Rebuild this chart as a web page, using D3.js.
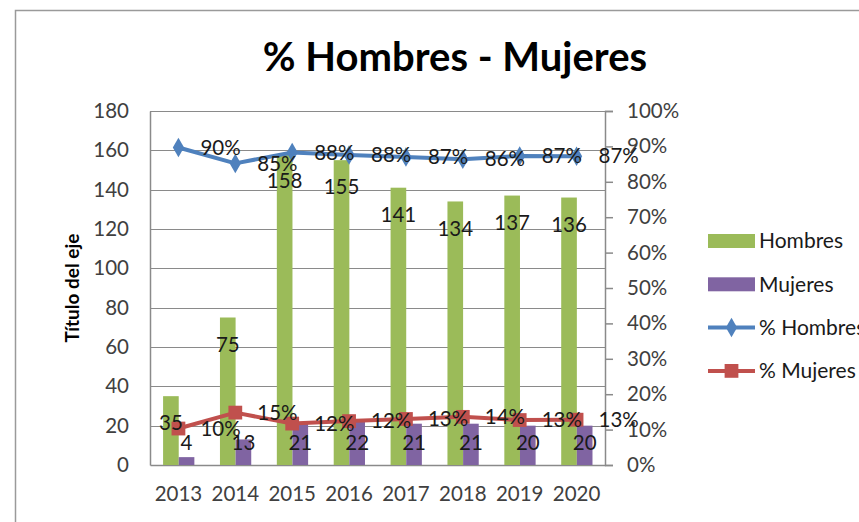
<!DOCTYPE html>
<html>
<head>
<meta charset="utf-8">
<script src="https://cdn.jsdelivr.net/npm/d3@7"></script>
<style>
  body { margin: 0; background: #fff; }
  svg { display: block; font-family: Lato, "Noto Sans", sans-serif; }
</style>
</head>
<body>
<div id="chart"></div>
<script>
width = 859
height = 522

margin = ({ top: 111, right: 254, bottom: 57, left: 150 })

// datos
years = ["2013", "2014", "2015", "2016", "2017", "2018", "2019", "2020"]
hombres = [35, 75, 158, 155, 141, 134, 137, 136]
mujeres = [4, 13, 21, 22, 21, 21, 20, 20]
pctHombres = [0.897, 0.852, 0.883, 0.876, 0.870, 0.864, 0.873, 0.872]
pctMujeres = [0.103, 0.148, 0.117, 0.124, 0.130, 0.136, 0.127, 0.128]
leftTicks = [0, 20, 40, 60, 80, 100, 120, 140, 160, 180]
rightTicks = [0, 0.1, 0.2, 0.3, 0.4, 0.5, 0.6, 0.7, 0.8, 0.9, 1]
seriesNames = ["Hombres", "Mujeres", "% Hombres", "% Mujeres"]
colors = ["#9bbb59", "#8064a2", "#4f81bd", "#c0504d"]

const svg = d3.select("#chart").append("svg")
    .attr("width", width)
    .attr("height", height)

// marco del grafico
svg.append("rect")
    .attr("x", 15.5).attr("y", 10.5)
    .attr("width", width).attr("height", height)
    .attr("fill", "none")
    .attr("stroke", "#9a9a9a")
    .attr("stroke-width", 1.5)

x = d3.scaleBand(years, [margin.left, width - margin.right])
xs = d3.scaleBand(["Hombres", "Mujeres"], [x.bandwidth() * 0.23, x.bandwidth() * 0.78])
y = d3.scaleLinear([0, 180], [height - margin.bottom, margin.top])
y2 = d3.scaleLinear([0, 1], [height - margin.bottom, margin.top])

// rejilla
svg.append("g")
    .attr("stroke", "#8a8a8a")
    .attr("stroke-width", 1.2)
    .selectAll("line")
    .data(leftTicks.slice(1))
    .join("line")
    .attr("x1", margin.left)
    .attr("x2", width - margin.right)
    .attr("y1", d => Math.round(y(d)) + 0.5)
    .attr("y2", d => Math.round(y(d)) + 0.5)

// eje izquierdo
svg.append("g")
    .attr("transform", `translate(${margin.left},0)`)
    .call(d3.axisLeft(y).tickValues(leftTicks).tickSize(0).tickPadding(21))
    .call(g => g.select(".domain").attr("stroke", "#8a8a8a").attr("stroke-width", 1.5))
    .call(g => g.selectAll("text").attr("font-size", 20.5).attr("fill", "#404040").attr("font-family", "Lato"))

// eje derecho
svg.append("g")
    .attr("transform", `translate(${width - margin.right},0)`)
    .call(d3.axisRight(y2).tickValues(rightTicks).tickSize(8).tickPadding(14).tickFormat(d3.format(".0%")))
    .call(g => g.select(".domain").attr("stroke", "#8a8a8a").attr("stroke-width", 1.5))
    .call(g => g.selectAll("line").attr("stroke", "#8a8a8a").attr("stroke-width", 1.5))
    .call(g => g.selectAll("text").attr("font-size", 20.5).attr("fill", "#404040").attr("font-family", "Lato"))

// eje x
svg.append("g")
    .attr("transform", `translate(0,${height - margin.bottom})`)
    .call(d3.axisBottom(x).tickSize(0).tickPadding(21))
    .call(g => g.select(".domain").attr("stroke", "#8a8a8a").attr("stroke-width", 1.5))
    .call(g => g.selectAll("text").attr("font-size", 20.5).attr("fill", "#404040").attr("font-family", "Lato"))

// barras
const barData = years.map((yr, i) => [
    { year: yr, key: "Hombres", value: hombres[i], color: colors[0] },
    { year: yr, key: "Mujeres", value: mujeres[i], color: colors[1] }
]).flat()

svg.append("g")
    .selectAll("rect")
    .data(barData)
    .join("rect")
    .attr("x", d => x(d.year) + xs(d.key))
    .attr("width", xs.bandwidth())
    .attr("y", d => y(d.value))
    .attr("height", d => y(0) - y(d.value))
    .attr("fill", d => d.color)

// lineas
const line = d3.line()
    .x(d => x(d[0]) + x.bandwidth() / 2)
    .y(d => y2(d[1]))

const lineSeries = [
    { values: years.map((yr, i) => [yr, pctHombres[i]]), color: colors[2], symbol: d3.symbolDiamond, size: 110 },
    { values: years.map((yr, i) => [yr, pctMujeres[i]]), color: colors[3], symbol: d3.symbolSquare, size: 190 }
]

lineSeries.forEach(s => {
    svg.append("path")
        .datum(s.values)
        .attr("fill", "none")
        .attr("stroke", s.color)
        .attr("stroke-width", 4)
        .attr("stroke-linejoin", "round")
        .attr("d", line)
    svg.append("g")
        .selectAll("path")
        .data(s.values)
        .join("path")
        .attr("transform", d => `translate(${x(d[0]) + x.bandwidth() / 2},${y2(d[1])})`)
        .attr("d", d3.symbol(s.symbol, s.size))
        .attr("fill", s.color)
})

// etiquetas de datos
const labels = svg.append("g")
    .attr("font-size", 20.5)
    .attr("fill", "#1a1a1a")
    .attr("font-family", "Lato")

labels.selectAll(".lh")
    .data(years.map((yr, i) => [yr, hombres[i]]))
    .join("text")
    .attr("x", d => x(d[0]) + xs("Hombres") + xs.bandwidth() / 2)
    .attr("y", d => y(d[1]) + 27)
    .attr("dy", "0.35em")
    .attr("text-anchor", "middle")
    .text(d => d[1])

labels.selectAll(".lm")
    .data(years.map((yr, i) => [yr, mujeres[i]]))
    .join("text")
    .attr("x", d => x(d[0]) + xs("Mujeres") + xs.bandwidth() / 2)
    .attr("y", y(0) - 22)
    .attr("dy", "0.35em")
    .attr("text-anchor", "middle")
    .text(d => d[1])

lineSeries.forEach(s => {
    labels.append("g")
        .selectAll("text")
        .data(s.values)
        .join("text")
        .attr("x", d => x(d[0]) + x.bandwidth() / 2 + 22)
        .attr("y", d => y2(d[1]))
        .attr("dy", "0.35em")
        .text(d => d3.format(".0%")(d[1]))
})

// titulo
svg.append("text")
    .attr("x", 455)
    .attr("y", 57)
    .attr("dy", "0.35em")
    .attr("text-anchor", "middle")
    .attr("font-size", 40)
    .attr("font-weight", "bold")
    .attr("fill", "#000")
    .text("% Hombres - Mujeres")

svg.append("text")
    .attr("transform", `translate(72,${(y(0) + y(180)) / 2}) rotate(-90)`)
    .attr("text-anchor", "middle")
    .attr("dy", "0.35em")
    .attr("font-size", 19)
    .attr("font-weight", "bold")
    .attr("fill", "#000")
    .text("Título del eje")

// leyenda
const legend = svg.append("g")
    .attr("transform", "translate(708,241)")
    .selectAll("g")
    .data(seriesNames)
    .join("g")
    .attr("transform", (d, i) => `translate(0,${i * 43.3})`)

legend.filter((d, i) => i < 2).append("rect")
    .attr("y", -7).attr("width", 47).attr("height", 14)
    .attr("fill", (d, i) => colors[i])

legend.filter((d, i) => i >= 2).append("line")
    .attr("x1", 0).attr("x2", 47)
    .attr("stroke", (d, i) => colors[i + 2])
    .attr("stroke-width", 4)

legend.filter((d, i) => i >= 2).append("path")
    .attr("transform", "translate(23.5,0)")
    .attr("d", (d, i) => d3.symbol(lineSeries[i].symbol, lineSeries[i].size)())
    .attr("fill", (d, i) => colors[i + 2])

legend.append("text")
    .attr("x", 51)
    .attr("dy", "0.35em")
    .attr("font-size", 21)
    .attr("fill", "#1a1a1a")
    .text(d => d)
</script>
</body>
</html>
